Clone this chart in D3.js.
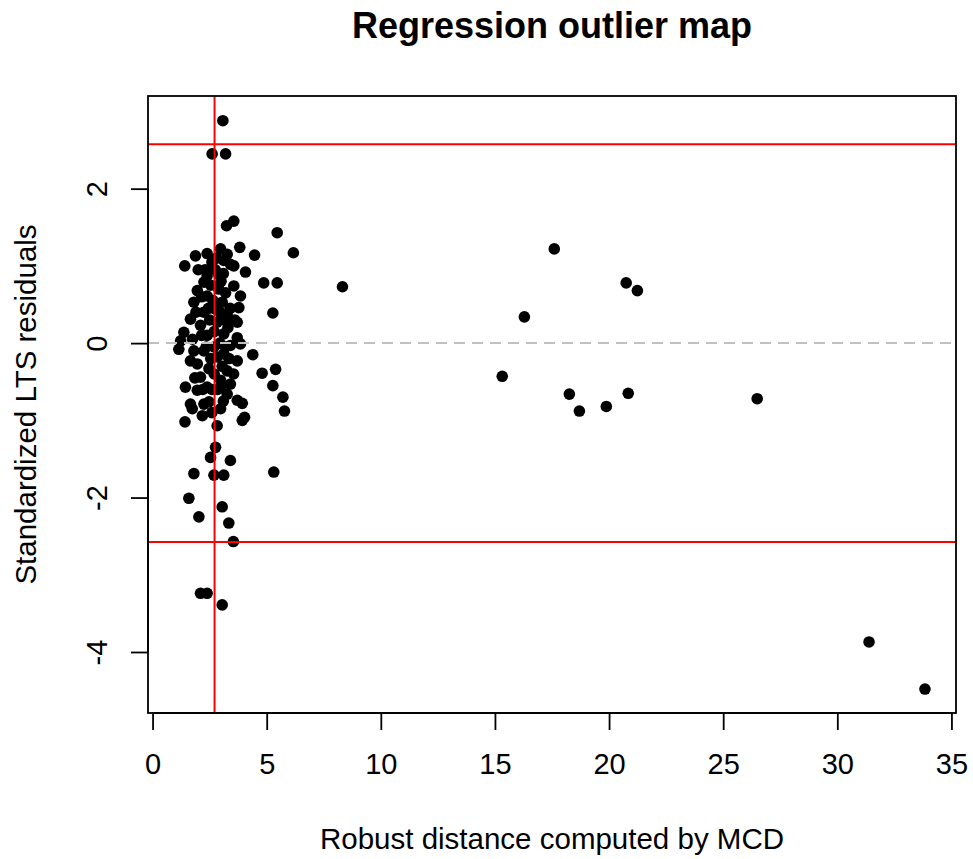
<!DOCTYPE html>
<html>
<head>
<meta charset="utf-8">
<script src="https://cdn.jsdelivr.net/npm/d3@7"></script>
<style>
  body { margin: 0; background: #fff; }
  text { font-family: "Liberation Sans", Arial, sans-serif; }
</style>
</head>
<body>
<div id="chart"></div>
<script>
// robust distances (MCD) and standardized LTS residuals
let rdist = [3.08, 2.61, 3.20, 3.24, 3.56, 5.46, 6.17, 4.47, 3.82, 1.41,
  1.88, 2.39, 2.98, 3.27, 3.41, 4.07, 4.87, 5.46, 8.32, 3.85,
  5.27, 3.12, 3.56, 2.39, 2.90, 1.96, 1.81, 2.25, 1.66, 1.37,
  1.23, 3.78, 3.71, 3.71, 3.56, 3.27, 3.05, 2.39, 2.25, 2.10,
  2.39, 3.12, 2.83, 2.90, 2.76, 1.15, 4.39, 4.80, 5.39, 5.27,
  5.71, 5.78, 3.93, 4.03, 1.44, 1.66, 3.71, 3.71, 1.81, 1.96,
  1.66, 2.10, 1.96, 2.25, 3.12, 3.27, 3.41, 3.27, 2.98, 2.39,
  2.47, 2.83, 2.69, 2.25, 3.41, 3.85, 2.47, 1.74, 2.18, 1.42,
  2.98, 3.93, 2.83, 2.76, 2.54, 3.41, 1.81, 2.69, 3.12, 5.31,
  1.59, 3.05, 2.03, 3.34, 3.54, 2.10, 2.39, 3.05,
  2.60, 2.75, 2.55, 3.00, 3.20, 2.65, 3.40, 2.95, 2.50, 3.30,
  2.70, 2.95, 2.55, 3.05, 2.70, 2.85, 3.10, 2.60, 1.90, 1.75,
  2.00, 2.15, 3.60, 3.55, 1.85,
  2.30, 2.80, 3.10, 2.45, 3.15, 2.35, 3.20, 2.60, 3.35, 2.15,
  3.00, 2.20,
  17.60, 16.29, 20.75, 21.24, 15.32, 18.26, 18.70, 19.88, 20.84, 26.49,
  31.39, 33.84]
let resid = [2.88, 2.45, 2.45, 1.52, 1.58, 1.43, 1.17, 1.14, 1.24, 1.00,
  1.13, 1.16, 1.22, 1.15, 1.02, 0.92, 0.78, 0.78, 0.73, 0.61,
  0.39, 1.07, 1.00, 0.87, 0.89, 0.68, 0.53, 0.79, 0.31, 0.14,
  0.03, 0.46, 0.27, 0.07, 0.74, 0.36, 0.53, 0.61, 0.40, 0.23,
  0.10, 0.12, 0.27, 0.70, 0.44, -0.08, -0.15, -0.39, -0.34, -0.55,
  -0.70, -0.88, -0.78, -0.96, -0.57, -0.79, -0.23, -0.74, -0.10, -0.27,
  -0.23, -0.44, -0.61, -0.79, -0.14, -0.36, -0.53, -0.66, -0.48, -0.57,
  -0.33, -0.18, -0.05, -0.10, -0.03, -0.01, -0.76, -0.85, -0.94, -1.02,
  -0.85, -1.00, -1.07, -1.35, -1.48, -1.52, -1.69, -1.71, -1.71, -1.67,
  -2.01, -2.12, -2.25, -2.33, -2.57, -3.24, -3.24, -3.39,
  1.05, 0.95, 0.75, 0.80, 0.65, 0.55, 0.45, 0.40, 0.30, 0.20,
  0.15, 0.00, -0.20, -0.30, -0.40, -0.60, -0.75, -0.90, 0.40, 0.05,
  0.95, 0.60, 0.30, -0.40, -0.45,
  0.95, 1.10, 0.90, 0.45, 0.30, -0.05, -0.05, -0.60, -0.20, 0.10,
  -0.55, -0.60,
  1.22, 0.34, 0.78, 0.68, -0.43, -0.66, -0.88, -0.82, -0.65, -0.72,
  -3.87, -4.48]

let xTicks = [0, 5, 10, 15, 20, 25, 30, 35]
let yTicks = [-4, -2, 0, 2]
let residCut = 2.576   // sqrt(qchisq(0.99, 1))
let distCut = 2.716    // sqrt(qchisq(0.975, 2))

let W = 973, H = 859
let box = { left: 148, right: 956, top: 96, bottom: 713 }

let svg = d3.select("#chart")
  .append("svg")
  .attr("width", W)
  .attr("height", H)

let x = d3.scaleLinear()
  .domain([-0.2, 35.2])
  .range([box.left, box.right])
let y = d3.scaleLinear()
  .domain([-4.79, 3.20])
  .range([box.bottom, box.top])

// points
svg.append("g")
  .selectAll("circle")
  .data(rdist.map((d, i) => ({ x: d, y: resid[i] })))
  .enter()
  .append("circle")
    .attr("cx", d => x(d.x))
    .attr("cy", d => y(d.y))
    .attr("r", 5.8)
    .style("fill", "#000")

svg.append("clipPath").attr("id", "plotclip")
  .append("rect")
  .attr("x", box.left).attr("y", box.top)
  .attr("width", box.right - box.left).attr("height", box.bottom - box.top)

let lines = svg.append("g").attr("clip-path", "url(#plotclip)")

// zero line
lines.append("line")
  .attr("x1", box.left).attr("x2", box.right)
  .attr("y1", y(0)).attr("y2", y(0))
  .attr("stroke", "#c0c0c0")
  .attr("stroke-width", 2)
  .attr("stroke-dasharray", "11,7")

// cutoffs
;[residCut, -residCut].forEach(v => {
  lines.append("line")
    .attr("x1", box.left).attr("x2", box.right)
    .attr("y1", y(v)).attr("y2", y(v))
    .attr("stroke", "#ff0000")
    .attr("stroke-width", 2)
})
lines.append("line")
  .attr("x1", x(distCut)).attr("x2", x(distCut))
  .attr("y1", box.top).attr("y2", box.bottom)
  .attr("stroke", "#ff0000")
  .attr("stroke-width", 2)

// frame
svg.append("rect")
  .attr("x", box.left).attr("y", box.top)
  .attr("width", box.right - box.left).attr("height", box.bottom - box.top)
  .attr("fill", "none")
  .attr("stroke", "#000")
  .attr("stroke-width", 1.8)

let fmt = d => String(d)

// x axis (line runs from first to last tick, like base R)
let xAxis = d3.axisBottom(x).tickValues(xTicks).tickSize(17).tickSizeOuter(0).tickPadding(23).tickFormat(fmt)
let gx = svg.append("g")
  .attr("transform", "translate(0," + box.bottom + ")")
  .call(xAxis)
gx.select(".domain").remove()
gx.append("line")
  .attr("x1", x(xTicks[0])).attr("x2", x(xTicks[xTicks.length - 1]))
  .attr("stroke", "#000").attr("stroke-width", 1.8)
gx.selectAll(".tick line").attr("stroke-width", 1.8)
gx.selectAll(".tick text")
  .attr("font-size", 29)
  .attr("fill", "#000")
  .attr("font-family", "Liberation Sans, Arial, sans-serif")

// y axis
let yAxis = d3.axisLeft(y).tickValues(yTicks).tickSize(17).tickSizeOuter(0).tickFormat(fmt)
let gy = svg.append("g")
  .attr("transform", "translate(" + box.left + ",0)")
  .call(yAxis)
gy.select(".domain").remove()
gy.append("line")
  .attr("y1", y(yTicks[0])).attr("y2", y(yTicks[yTicks.length - 1]))
  .attr("stroke", "#000").attr("stroke-width", 1.8)
gy.selectAll(".tick line").attr("stroke-width", 1.8)
gy.selectAll(".tick text")
  .attr("font-size", 29)
  .attr("fill", "#000")
  .attr("font-family", "Liberation Sans, Arial, sans-serif")
  .attr("x", null).attr("dy", null)
  .attr("text-anchor", "middle")
  .attr("transform", "translate(" + (107 - box.left) + ",0) rotate(-90)")

// title and labels
svg.append("text")
  .attr("x", (box.left + box.right) / 2)
  .attr("y", 38)
  .attr("text-anchor", "middle")
  .attr("font-size", 36)
  .attr("font-weight", "bold")
  .text("Regression outlier map")

svg.append("text")
  .attr("x", (box.left + box.right) / 2)
  .attr("y", 849)
  .attr("text-anchor", "middle")
  .attr("font-size", 29.5)
  .text("Robust distance computed by MCD")

svg.append("text")
  .attr("transform", "translate(36," + ((box.top + box.bottom) / 2) + ") rotate(-90)")
  .attr("text-anchor", "middle")
  .attr("font-size", 29.5)
  .text("Standardized LTS residuals")
</script>
</body>
</html>
